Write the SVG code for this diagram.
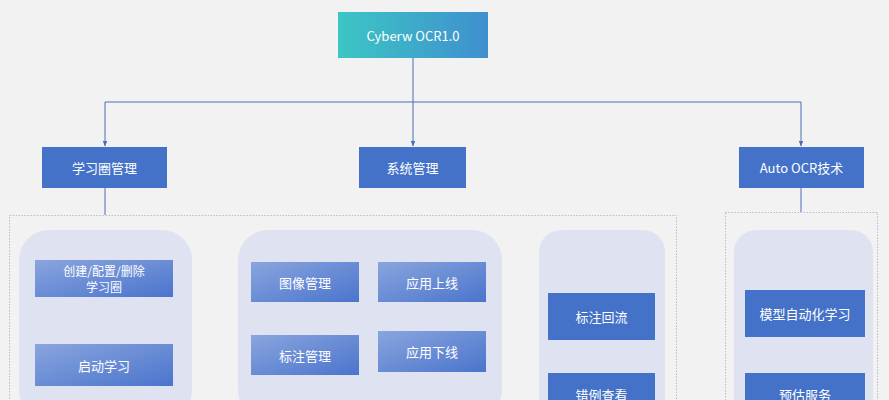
<svg xmlns="http://www.w3.org/2000/svg" width="889" height="400" viewBox="0 0 889 400">
<style>
text{font-family:"Noto Sans CJK SC","Noto Sans",sans-serif;font-size:13px;fill:#fff;text-anchor:middle;dominant-baseline:central}
.s{font-size:12px}
.b{fill:#4472c8}.g{fill:url(#gr)}.p{fill:#dfe2f0}
.c{fill:none;stroke:#4a6fb5;stroke-width:1}
.d{fill:none;stroke:#b8bcc8;stroke-width:1;stroke-dasharray:1.5 1.5}
</style>
<defs>
<linearGradient id="gr" x1="0" y1="0" x2="1" y2="1"><stop offset="0" stop-color="#8aa5de"/><stop offset="1" stop-color="#4a74cc"/></linearGradient>
<linearGradient id="top" x1="0" y1="0" x2="1" y2="0"><stop offset="0" stop-color="#3cc6c4"/><stop offset="1" stop-color="#3f8fcf"/></linearGradient>
<marker id="a" viewBox="0 0 10 10" refX="9" refY="5" markerWidth="6" markerHeight="6" orient="auto"><path d="M0,1L10,5L0,9z" fill="#4a6fb5"/></marker>
</defs>
<rect width="889" height="400" fill="#f2f2f2"/>
<g id="containers">
<rect class="d" x="9.5" y="215.5" width="667" height="200"/>
<rect class="d" x="725.5" y="212.5" width="152" height="200"/>
<rect class="p" x="19" y="230" width="173" height="190" rx="30"/>
<rect class="p" x="238" y="230" width="264" height="190" rx="30"/>
<rect class="p" x="539" y="230" width="126" height="190" rx="22"/>
<rect class="p" x="734" y="230" width="139" height="190" rx="22"/>
</g>
<g id="connectors">
<path class="c" d="M413,58V102M105,102H801"/>
<path class="c" d="M105,102V146" marker-end="url(#a)"/>
<path class="c" d="M413,102V146" marker-end="url(#a)"/>
<path class="c" d="M801,102V146" marker-end="url(#a)"/>
<path class="c" d="M105,188V215M801,188V212" stroke="#6a7fb0"/>
</g>
<g id="root"><rect x="338" y="12" width="150" height="46" fill="url(#top)"/><text x="413" y="35">Cyberw OCR1.0</text></g>
<g id="n1"><rect class="b" x="42" y="147" width="125" height="41"/><text x="104.5" y="167.5">学习圈管理</text></g>
<g id="n2"><rect class="b" x="359" y="147" width="107" height="41"/><text x="412.5" y="167.5">系统管理</text></g>
<g id="n3"><rect class="b" x="739" y="147" width="125" height="41"/><text x="801.5" y="167.5">Auto OCR技术</text></g>
<g id="n4"><rect class="g" x="35" y="260" width="138" height="37"/><text class="s" x="104" y="270">创建/配置/删除</text><text class="s" x="104" y="286">学习圈</text></g>
<g id="n5"><rect class="g" x="35" y="344" width="138" height="42"/><text x="104" y="365">启动学习</text></g>
<g id="n6"><rect class="g" x="251" y="262" width="108" height="40"/><text x="305" y="282">图像管理</text></g>
<g id="n7"><rect class="g" x="378" y="262" width="108" height="40"/><text x="432" y="282">应用上线</text></g>
<g id="n8"><rect class="g" x="251" y="335" width="108" height="40"/><text x="305" y="355">标注管理</text></g>
<g id="n9"><rect class="g" x="378" y="331" width="108" height="41"/><text x="432" y="351.5">应用下线</text></g>
<g id="n10"><rect class="b" x="548" y="293" width="107" height="47"/><text x="601.5" y="316.5">标注回流</text></g>
<g id="n11"><rect class="b" x="548" y="373" width="107" height="40"/><text x="601.5" y="394">错例查看</text></g>
<g id="n12"><rect class="b" x="745" y="290" width="120" height="47"/><text x="805" y="313.5">模型自动化学习</text></g>
<g id="n13"><rect class="b" x="745" y="373" width="120" height="40"/><text x="805" y="394">预估服务</text></g>
</svg>
